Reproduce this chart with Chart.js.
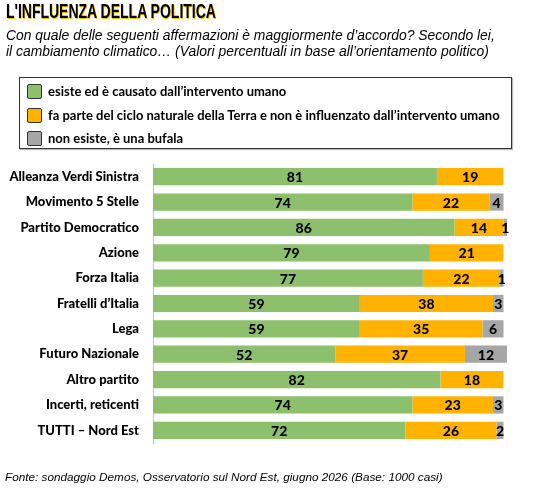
<!DOCTYPE html>
<html>
<head>
<meta charset="utf-8">
<script src="https://cdn.jsdelivr.net/npm/chart.js@4"></script>
<style>
  body { margin: 0; background: #fff; }
  #wrap { position: relative; width: 533px; height: 490px; overflow: hidden; }
  #chart { position: absolute; left: 0; top: 0; }
  .title {
    position: absolute; left: 6px; top: -1px; white-space: nowrap;
    font: bold 21px "Liberation Sans", Arial, sans-serif;
    color: #000; text-shadow: 1px 1px 0 #f2c200;
    transform-origin: 0 0;
  }
  .sub {
    position: absolute; left: 6px; top: 27px; line-height: 17px;
    font: italic 13.9px "Liberation Sans", Arial, sans-serif; color: #000;
    white-space: nowrap;
  }
  .legend {
    position: absolute; left: 19px; top: 77px; width: 491px; height: 70px;
    border: 1px solid #333; box-shadow: 1px 1px 1px #bbb;
  }
  .item {
    position: absolute; left: 7px; height: 16px; white-space: nowrap;
    font: bold 13px Lato, sans-serif; color: #000; line-height: 16px;
  }
  .item span.sw {
    display: inline-block; width: 13px; height: 13px; border: 1px solid #333;
    border-radius: 2px; vertical-align: -3px; margin-right: 6px;
  }
  .foot {
    position: absolute; left: 5px; top: 470px; white-space: nowrap;
    font: italic 11.75px "Liberation Sans", Arial, sans-serif; color: #000;
  }
</style>
</head>
<body>
<div id="wrap">
  <canvas id="chart" width="533" height="490"></canvas>
  <div class="title" id="title">L'INFLUENZA DELLA POLITICA</div>
  <div class="sub">Con quale delle seguenti affermazioni è maggiormente d’accordo? Secondo lei,<br>il cambiamento climatico… (Valori percentuali in base all’orientamento politico)</div>
  <div class="legend" id="legend"></div>
  <div class="foot">Fonte: sondaggio Demos, Osservatorio sul Nord Est, giugno 2026 (Base: 1000 casi)</div>
</div>
<script>
// categories (top to bottom)
const parties = [
  "Alleanza Verdi Sinistra", "Movimento 5 Stelle", "Partito Democratico", "Azione",
  "Forza Italia", "Fratelli d’Italia", "Lega", "Futuro Nazionale",
  "Altro partito", "Incerti, reticenti", "TUTTI – Nord Est"
];
const seriesNames = [
  "esiste ed è causato dall’intervento umano",
  "fa parte del ciclo naturale della Terra e non è influenzato dall’intervento umano",
  "non esiste, è una bufala"
];
const umano    = [81, 74, 86, 79, 77, 59, 59, 52, 82, 74, 72];
const naturale = [19, 22, 14, 21, 22, 38, 35, 37, 18, 23, 26];
const bufala   = [0, 4, 1, 0, 1, 3, 6, 12, 0, 3, 2];
const colors = ["#8cc06c", "#ffb300", "#a6a6a6"];

// squeeze the title to look like a narrow font
const titleEl = document.getElementById("title");
titleEl.style.transform = "scaleX(" + (210 / titleEl.offsetWidth) + ")";

// html legend
const legendEl = document.getElementById("legend");
seriesNames.forEach((name, i) => {
  const d = document.createElement("div");
  d.className = "item";
  d.style.top = (5 + i * 23.5) + "px";
  d.innerHTML = '<span class="sw" style="background:' + colors[i] + '"></span>' + name;
  legendEl.appendChild(d);
});

// labels drawn in the middle of each segment
const segLabels = {
  id: "segLabels",
  afterDatasetsDraw(chart) {
    const ctx = chart.ctx;
    ctx.save();
    ctx.font = "900 14px Lato, sans-serif";
    ctx.fillStyle = "#000";
    ctx.textAlign = "center";
    ctx.textBaseline = "middle";
    chart.data.datasets.forEach((ds, i) => {
      chart.getDatasetMeta(i).data.forEach((bar, j) => {
        const v = ds.data[j];
        if (!v) return;
        const x = (bar.x + bar.base) / 2;
        ctx.fillText(v, x, bar.y + 1);
      });
    });
    ctx.restore();
  }
};

new Chart(document.getElementById("chart"), {
  type: "bar",
  data: {
    labels: parties,
    datasets: [umano, naturale, bufala].map((d, i) => ({
      label: seriesNames[i],
      data: d,
      backgroundColor: colors[i],
      borderWidth: 0,
      categoryPercentage: 1,
      barPercentage: 0.68
    }))
  },
  options: {
    indexAxis: "y",
    responsive: false,
    animation: false,
    layout: { padding: { left: 0, right: 26, top: 164, bottom: 47 } },
    scales: {
      x: {
        stacked: true, min: 0, max: 101, display: false
      },
      y: {
        stacked: true,
        grid: { display: false, drawTicks: false },
        border: { display: true, color: "#bfbfbf", width: 1 },
        ticks: {
          color: "#000",
          padding: 14,
          font: { size: 13, weight: "900", family: "Lato, sans-serif" }
        },
        afterFit(scale) { scale.width = 153; }
      }
    },
    plugins: {
      legend: { display: false },
      tooltip: { enabled: false }
    }
  },
  plugins: [segLabels]
});
</script>
</body>
</html>
